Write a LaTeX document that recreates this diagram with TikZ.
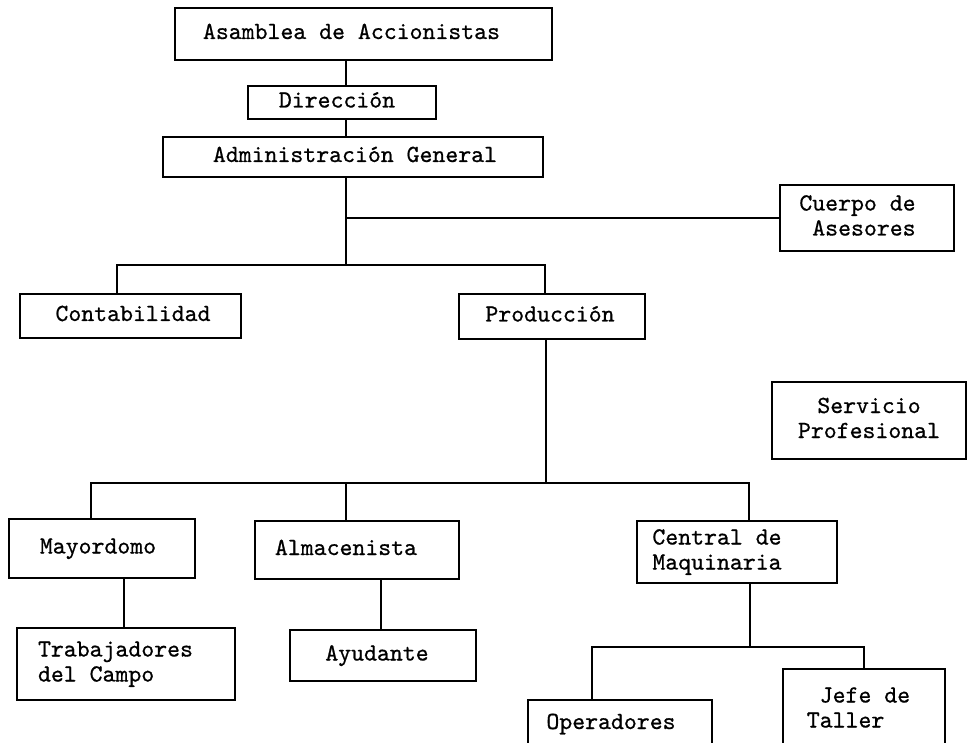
\documentclass[tikz,border=0pt]{standalone}
\usepackage{fontspec}
\newfontfamily\tw{lmmono10-regular.otf}[FakeBold=0.7]
\tikzset{
  box/.style={draw, line width=2pt, inner sep=0pt, font=\tw\fontsize{24.6}{25}\selectfont},
  link/.style={line width=2pt},
}
\newcommand\tx[3][c]{\hspace*{#2}\begin{tabular}{@{}#1@{}}#3\end{tabular}\hspace*{-#2}}
\begin{document}
\begin{tikzpicture}[x=1pt,y=-1pt]
\useasboundingbox (0,0) rectangle (969,743);
\clip (0,0) rectangle (969,743);
\fill[white] (0,0) rectangle (969,743);

\node[box, minimum width=377pt, minimum height=52pt] (asam) at (363.5,34) {\tx{-12pt}{Asamblea de Accionistas}};
\node[box, minimum width=188pt, minimum height=33pt] (dir) at (342,102.5) {\tx{-5pt}{Dirección}};
\node[box, minimum width=380pt, minimum height=40pt] (adm) at (353,157) {\tx{2pt}{Administración General}};
\node[box, minimum width=174pt, minimum height=66pt] (cuerpo) at (867,218) {\tx[r]{-9.5pt}{Cuerpo de\\Asesores}};
\node[box, minimum width=221pt, minimum height=44pt] (cont) at (130.5,316) {\tx{2.5pt}{Contabilidad}};
\node[box, minimum width=186pt, minimum height=45pt] (prod) at (552,316.5) {\tx{-2pt}{Producción}};
\node[box, minimum width=194pt, minimum height=77pt] (serv) at (869,420.5) {\tx{0pt}{Servicio\\Profesional}};
\node[box, minimum width=186pt, minimum height=59pt] (mayo) at (102,548.5) {\tx{-4pt}{Mayordomo}};
\node[box, minimum width=204pt, minimum height=58pt] (alm) at (357,550) {\tx{-11pt}{Almacenista}};
\node[box, minimum width=200pt, minimum height=62pt] (cent) at (737,552) {\tx[l]{-20pt}{Central de\\Maquinaria}};
\node[box, minimum width=218pt, minimum height=72pt] (trab) at (126,664) {\tx[l]{-10.5pt}{Trabajadores\\del Campo}};
\node[box, minimum width=186pt, minimum height=51pt] (ayu) at (383,655.5) {\tx{-6pt}{Ayudante}};
\node[box, minimum width=184pt, minimum height=48pt] (oper) at (620,724) {\tx{-9pt}{Operadores}};
\node[box, minimum width=162pt, minimum height=82pt] (jefe) at (864,710) {\tx[l]{-5.5pt}{\hspace*{0.525em}Jefe de\\Taller}};

\coordinate (sp) at (346,0);
\coordinate (s2) at (346,218);
\coordinate (b1) at (346,265);
\coordinate (b1l) at (117,265);
\coordinate (b1r) at (545,265);
\coordinate (b2) at (546,483);
\coordinate (b2l) at (91,483);
\coordinate (b2m) at (346,483);
\coordinate (b2r) at (749,483);
\coordinate (m1) at (124,600);
\coordinate (a1) at (381,600);
\coordinate (b3) at (750,647);
\coordinate (b3l) at (592,647);
\coordinate (b3r) at (864,647);

\draw[link] (asam.south -| sp) -- (dir.north -| sp);
\draw[link] (dir.south -| sp) -- (adm.north -| sp);
\draw[link] (adm.south -| sp) -- (b1);
\draw[link] (s2) -- (cuerpo.west);
\draw[link] (b1l |- cont.north) -- (b1l) -- (b1r) -- (b1r |- prod.north);
\draw[link] (prod.south -| b2) -- (b2);
\draw[link] (b2l |- mayo.north) -- (b2l) -- (b2r) -- (b2r |- cent.north);
\draw[link] (b2m) -- (b2m |- alm.north);
\draw[link] (mayo.south -| m1) -- (trab.north -| m1);
\draw[link] (alm.south -| a1) -- (ayu.north -| a1);
\draw[link] (cent.south -| b3) -- (b3);
\draw[link] (b3l |- oper.north) -- (b3l) -- (b3r) -- (b3r |- jefe.north);
\end{tikzpicture}
\end{document}
